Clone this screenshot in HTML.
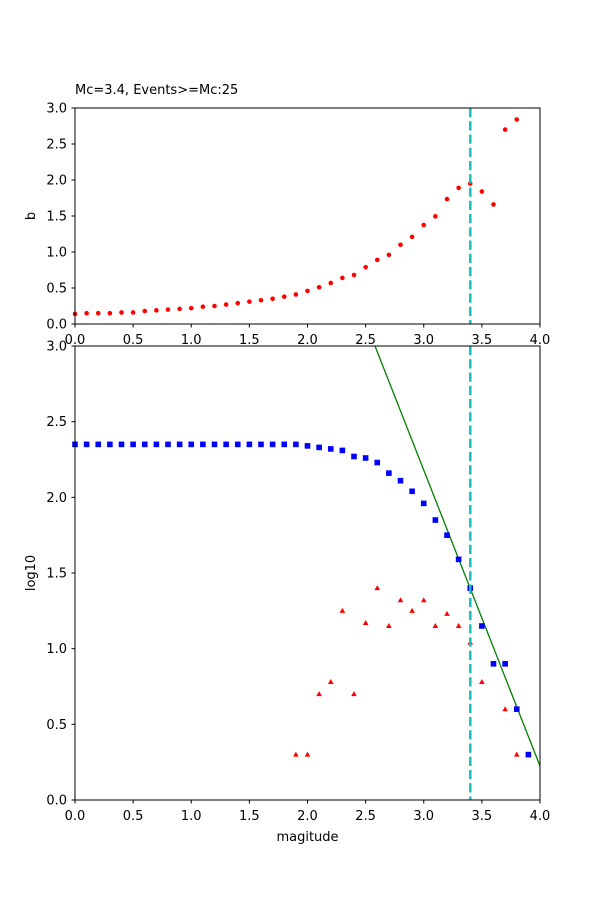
<!DOCTYPE html>
<html><head><meta charset="utf-8"><style>html,body{margin:0;padding:0;background:#fff}svg{display:block}text{font-family:"DejaVu Sans","Liberation Sans",sans-serif;font-size:13px;fill:#000}</style></head>
<body><svg id="s" width="600" height="900" xmlns="http://www.w3.org/2000/svg"></svg>
<script>
const s=document.getElementById('s');let h='';
const X=m=>75+116.25*m;
h+='<text x="75" y="94">Mc=3.4, Events&gt;=Mc:25</text>';
const b=[0.14,0.15,0.15,0.15,0.16,0.16,0.18,0.19,0.2,0.21,0.22,0.24,0.25,0.27,0.29,0.31,0.33,0.35,0.38,0.41,0.46,0.51,0.57,0.64,0.68,0.79,0.89,0.96,1.1,1.21,1.375,1.495,1.735,1.89,1.95,1.84,1.66,2.7,2.84];
b.forEach((v,i)=>{h+=`<circle cx="${X(i/10)}" cy="${324-72*v}" r="2.3" fill="#f00"/>`});
for(let k=0;k<=6;k++){const y=324-36*k;h+=`<line x1="71.5" x2="75" y1="${y}" y2="${y}" stroke="#000"/><text x="67" y="${y+4.5}" text-anchor="end">${(k/2).toFixed(1)}</text>`;}
for(let k=0;k<=8;k++){const x=X(k/2);h+=`<line x1="${x}" x2="${x}" y1="324" y2="327.5" stroke="#000"/><text x="${x}" y="344" text-anchor="middle">${(k/2).toFixed(1)}</text>`;}
h+='<text transform="translate(35,216) rotate(-90)" text-anchor="middle">b</text>';
h+='<line x1="470.3" x2="470.3" y1="108" y2="324" stroke="#17bfbf" stroke-width="2.5" stroke-dasharray="9.25,4"/>';
h+='<rect x="75" y="108" width="465" height="216" fill="none" stroke="#000" stroke-width="1"/>';
const Y=v=>800-151.33*v;
h+='<svg x="75" y="346" width="465" height="454" overflow="hidden"><line x1="300" y1="0" x2="465" y2="420" stroke="#008000" stroke-width="1.3"/></svg>';
const bl=[];for(let i=0;i<20;i++)bl.push(2.35);
bl.push(2.34,2.33,2.32,2.31,2.27,2.26,2.23,2.16,2.11,2.04,1.96,1.85,1.75,1.59,1.40,1.15,0.9,0.9,0.6,0.3);
bl.forEach((v,i)=>{h+=`<rect x="${X(i/10)-2.8}" y="${Y(v)-2.8}" width="5.6" height="5.6" fill="#00f"/>`});
const tr={1.9:0.3,2.0:0.3,2.1:0.7,2.2:0.78,2.3:1.25,2.4:0.7,2.5:1.17,2.6:1.4,2.7:1.15,2.8:1.32,2.9:1.25,3.0:1.32,3.1:1.15,3.2:1.23,3.3:1.15,3.4:1.04,3.5:0.78,3.7:0.6,3.8:0.3};
for(const k in tr){const x=X(+k),y=Y(tr[k]);h+=`<polygon points="${x},${y-3} ${x-2.8},${y+2} ${x+2.8},${y+2}" fill="#f00"/>`;}
h+='<line x1="470.3" x2="470.3" y1="346" y2="800" stroke="#17bfbf" stroke-width="2.5" stroke-dasharray="9.25,4"/>';
for(let k=0;k<=6;k++){const y=Y(k/2);h+=`<line x1="71.5" x2="75" y1="${y}" y2="${y}" stroke="#000"/><text x="67" y="${y+4.5}" text-anchor="end">${(k/2).toFixed(1)}</text>`;}
for(let k=0;k<=8;k++){const x=X(k/2);h+=`<line x1="${x}" x2="${x}" y1="800" y2="803.5" stroke="#000"/><text x="${x}" y="820" text-anchor="middle">${(k/2).toFixed(1)}</text>`;}
h+='<text x="307.5" y="841" text-anchor="middle">magitude</text>';
h+='<text transform="translate(35,573) rotate(-90)" text-anchor="middle">log10</text>';
h+='<rect x="75" y="346" width="465" height="454" fill="none" stroke="#000" stroke-width="1"/>';
s.innerHTML=h;
</script></body></html>
